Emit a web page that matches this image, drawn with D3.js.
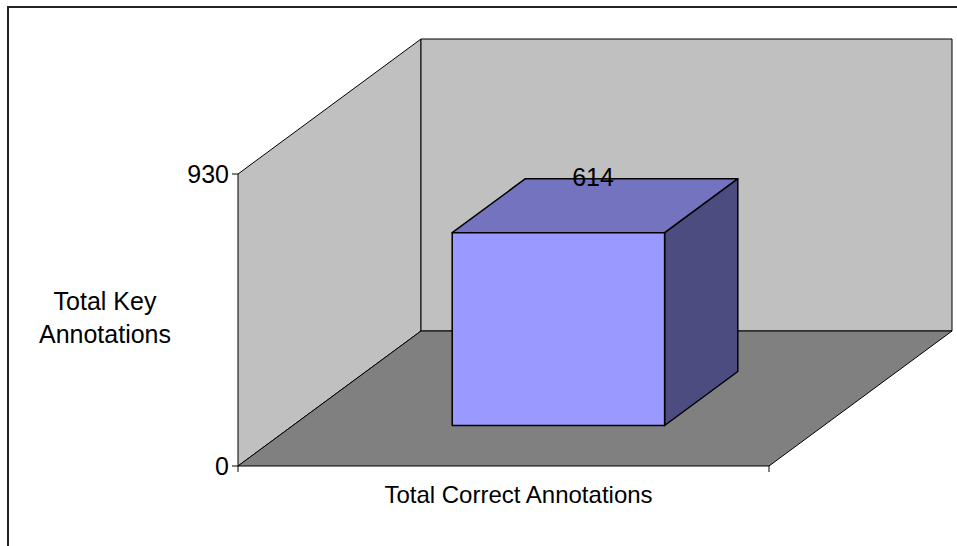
<!DOCTYPE html>
<html>
<head>
<meta charset="utf-8">
<script src="https://cdn.jsdelivr.net/npm/d3@7"></script>
<style>
  body { margin: 0; background: #fff; }
  text { font-family: Arial, "Liberation Sans", sans-serif; fill: #000; }
</style>
</head>
<body>
<div id="chart"></div>
<script>
// Data
const categories = ["Total Correct Annotations"]
const values = [614]
const yTicks = [0, 930]
const yTitle = ["Total Key", "Annotations"]

// Layout
const width = 957
const height = 546
const front = {left: 238, right: 769, bottom: 466, top: 174}
const depth = {dx: 183, dy: -135}

const svg = d3.select("#chart")
    .append("svg")
    .attr("width", width)
    .attr("height", height)

// Outer border
svg.append("rect")
    .attr("x", 8).attr("y", 7)
    .attr("width", width).attr("height", height)
    .attr("fill", "none")
    .attr("stroke", "#222")
    .attr("stroke-width", 2)

// Scales
const y = d3.scaleLinear()
    .domain([0, d3.max(yTicks)])
    .range([front.bottom, front.top])

const x = d3.scaleBand()
    .domain(categories)
    .range([front.left, front.right])
    .paddingInner(0.6)
    .paddingOuter(0.3)

const z = d3.scaleLinear().domain([0, 1]).range([0, 1])

// project (px, py) at depth fraction d
const pt = (px, py, d) => [px + z(d) * depth.dx, py + z(d) * depth.dy]
const poly = pts => "M" + pts.map(p => p.join(",")).join("L") + "Z"

const y0 = y(0), yMax = y(d3.max(yTicks))

// Left wall
svg.append("path")
    .attr("d", poly([pt(front.left, y0, 0), pt(front.left, yMax, 0), pt(front.left, yMax, 1), pt(front.left, y0, 1)]))
    .attr("fill", "#c0c0c0").attr("stroke", "#000").attr("stroke-width", 1)

// Back wall
svg.append("path")
    .attr("d", poly([pt(front.left, y0, 1), pt(front.left, yMax, 1), pt(front.right, yMax, 1), pt(front.right, y0, 1)]))
    .attr("fill", "#c0c0c0").attr("stroke", "#000").attr("stroke-width", 1)

// Floor
svg.append("path")
    .attr("d", poly([pt(front.left, y0, 0), pt(front.right, y0, 0), pt(front.right, y0, 1), pt(front.left, y0, 1)]))
    .attr("fill", "#808080").attr("stroke", "#000").attr("stroke-width", 1)

// Bars
const bz0 = 0.3, bz1 = 0.7
const bars = svg.selectAll("g.bar")
    .data(categories.map((c, i) => ({cat: c, value: values[i]})))
    .enter()
    .append("g")
    .attr("class", "bar")

bars.each(function(d) {
    const g = d3.select(this)
    const xa = x(d.cat), xb = x(d.cat) + x.bandwidth()
    const yt = y(d.value)
    // side
    g.append("path")
        .attr("d", poly([pt(xb, y0, bz0), pt(xb, yt, bz0), pt(xb, yt, bz1), pt(xb, y0, bz1)]))
        .attr("fill", "#4c4c80").attr("stroke", "#000").attr("stroke-width", 1.5).attr("stroke-linejoin", "round")
    // top
    g.append("path")
        .attr("d", poly([pt(xa, yt, bz0), pt(xb, yt, bz0), pt(xb, yt, bz1), pt(xa, yt, bz1)]))
        .attr("fill", "#7373bf").attr("stroke", "#000").attr("stroke-width", 1.5).attr("stroke-linejoin", "round")
    // front
    g.append("path")
        .attr("d", poly([pt(xa, y0, bz0), pt(xa, yt, bz0), pt(xb, yt, bz0), pt(xb, y0, bz0)]))
        .attr("fill", "#9999ff").attr("stroke", "#000").attr("stroke-width", 1.5).attr("stroke-linejoin", "round")
    // value label, sitting on the back edge of the top face
    const cx = pt((xa + xb) / 2, yt, (bz0 + bz1) / 2)[0]
    const cy = pt((xa + xb) / 2, yt, bz1)[1]
    g.append("text")
        .attr("x", cx - 2)
        .attr("y", cy + 7)
        .attr("text-anchor", "middle")
        .attr("font-size", 25)
        .text(d.value)
})

// Y axis ticks and labels
const yAxis = svg.append("g")
yAxis.selectAll("line")
    .data(yTicks)
    .enter()
    .append("line")
    .attr("x1", front.left - 6).attr("x2", front.left)
    .attr("y1", d => y(d)).attr("y2", d => y(d))
    .attr("stroke", "#000")
yAxis.selectAll("text")
    .data(yTicks)
    .enter()
    .append("text")
    .attr("x", front.left - 9)
    .attr("y", d => y(d))
    .attr("dy", "0.36em")
    .attr("text-anchor", "end")
    .attr("font-size", 25)
    .text(d => d)

// X axis tick marks at category edges
svg.selectAll("line.xtick")
    .data([front.left, front.right])
    .enter()
    .append("line")
    .attr("class", "xtick")
    .attr("x1", d => d).attr("x2", d => d)
    .attr("y1", y0).attr("y2", y0 + 6)
    .attr("stroke", "#000")

// X title
svg.append("text")
    .attr("x", (front.left + front.right) / 2 + 15)
    .attr("y", 503)
    .attr("text-anchor", "middle")
    .attr("font-size", 24)
    .text(categories[0])

// Y title
svg.append("text")
    .attr("x", 105)
    .attr("y", 310)
    .attr("text-anchor", "middle")
    .attr("font-size", 25)
    .selectAll("tspan")
    .data(yTitle)
    .enter()
    .append("tspan")
    .attr("x", 105)
    .attr("dy", (d, i) => i === 0 ? 0 : 33)
    .text(d => d)
</script>
</body>
</html>
